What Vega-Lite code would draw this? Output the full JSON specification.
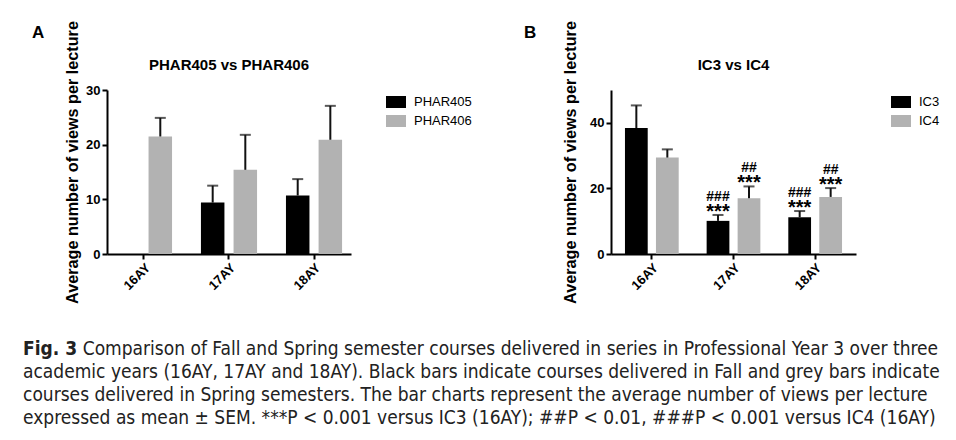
{
  "$schema": "https://vega.github.io/schema/vega-lite/v6.json",
  "background": "white",
  "padding": {"left": 22, "top": 20, "right": 5, "bottom": 5},
  "config": {
    "font": "Liberation Sans",
    "view": {"stroke": null},
    "axis": {
      "grid": false,
      "domainColor": "black",
      "domainWidth": 2,
      "tickColor": "black",
      "tickWidth": 2,
      "tickSize": 5,
      "labelFont": "Liberation Sans",
      "labelFontWeight": "bold",
      "labelFontSize": 13,
      "labelColor": "black",
      "titleFont": "Liberation Sans",
      "titleFontWeight": "bold",
      "titleFontSize": 16.2,
      "titleColor": "black"
    },
    "legend": {
      "labelFont": "Liberation Sans",
      "labelFontSize": 13,
      "labelColor": "black",
      "labelOffset": 8,
      "symbolType": "M-1,-0.6H1V0.6H-1Z",
      "symbolSize": 400,
      "symbolStrokeWidth": 0,
      "rowPadding": 2,
      "offset": 33,
      "padding": 2
    },
    "title": {"font": "Liberation Sans", "fontWeight": "bold", "color": "black"}
  },
  "title": {
    "text": "Fig. 3",
    "subtitle": [
      "\u200b\u00a0\u00a0\u00a0\u00a0\u00a0\u00a0\u00a0\u00a0\u00a0\u00a0\u00a0Comparison of Fall and Spring semester courses delivered in series in Professional Year 3 over three",
      "academic years (16AY, 17AY and 18AY). Black bars indicate courses delivered in Fall and grey bars indicate",
      "courses delivered in Spring semesters. The bar charts represent the average number of views per lecture",
      "expressed as mean ± SEM. ***P < 0.001 versus IC3 (16AY); ##P < 0.01, ###P < 0.001 versus IC4 (16AY)"
    ],
    "orient": "bottom",
    "anchor": "start",
    "dx": -9,
    "font": "Liberation Sans Narrow, DejaVu Sans Condensed, sans-serif",
    "fontSize": 19,
    "fontWeight": "bold",
    "color": "#222222",
    "subtitleFont": "Liberation Sans Narrow, DejaVu Sans Condensed, sans-serif",
    "subtitleFontSize": 19,
    "subtitleFontWeight": "normal",
    "subtitleColor": "#222222",
    "subtitleLineHeight": 23,
    "subtitlePadding": -19,
    "offset": 37
  },
  "datasets": {
    "A": [
      {"year": "16AY", "course": "PHAR406", "mean": 21.5, "upper": 24.9},
      {"year": "17AY", "course": "PHAR405", "mean": 9.4, "upper": 12.5},
      {"year": "17AY", "course": "PHAR406", "mean": 15.4, "upper": 21.8},
      {"year": "18AY", "course": "PHAR405", "mean": 10.7, "upper": 13.7},
      {"year": "18AY", "course": "PHAR406", "mean": 20.9, "upper": 27.1}
    ],
    "B": [
      {"year": "16AY", "course": "IC3", "mean": 38.4, "upper": 45.3, "stars": "", "hash": ""},
      {"year": "16AY", "course": "IC4", "mean": 29.4, "upper": 31.9, "stars": "", "hash": ""},
      {"year": "17AY", "course": "IC3", "mean": 10.1, "upper": 11.9, "stars": "***", "hash": "###"},
      {"year": "17AY", "course": "IC4", "mean": 17.0, "upper": 20.6, "stars": "***", "hash": "##"},
      {"year": "18AY", "course": "IC3", "mean": 11.2, "upper": 13.1, "stars": "***", "hash": "###"},
      {"year": "18AY", "course": "IC4", "mean": 17.4, "upper": 20.1, "stars": "***", "hash": "##"}
    ]
  },
  "resolve": {"scale": {"color": "independent", "xOffset": "independent"}, "legend": {"color": "independent"}},
  "spacing": 49,
  "hconcat": [
    {
      "title": {"text": "A", "anchor": "start", "fontSize": 17, "dx": -32, "dy": 21, "offset": 0},
      "vconcat": [
        {
          "width": 244,
          "height": 164,
          "title": {"text": "PHAR405 vs PHAR406", "fontSize": 15, "offset": 18, "dy": 70},
          "data": {"name": "A"},
          "encoding": {
            "x": {"field": "year", "type": "nominal", "title": null,
                  "scale": {"type": "band", "domain": ["16AY", "17AY", "18AY"], "paddingInner": 0.34, "paddingOuter": 0.105},
                  "axis": {"labelAngle": -45}},
            "xOffset": {"field": "course", "type": "nominal",
                        "scale": {"type": "band", "domain": ["PHAR405", "PHAR406"], "paddingInner": 0.28, "paddingOuter": 0}}
          },
          "layer": [
            {
              "mark": {"type": "bar"},
              "encoding": {
                "y": {"field": "mean", "type": "quantitative", "title": "Average number of views per lecture",
                      "scale": {"domain": [0, 30]},
                      "axis": {"values": [0, 10, 20, 30], "titleX": -35, "titleY": 72, "titleAlign": "center", "titleBaseline": "middle", "titleAngle": -90}},
                "color": {"field": "course", "type": "nominal", "title": null,
                          "scale": {"domain": ["PHAR405", "PHAR406"], "range": ["#000000", "#b2b2b2"]}}
              }
            },
            {
              "mark": {"type": "rule", "strokeWidth": 2, "color": "#111111"},
              "encoding": {"y": {"field": "mean", "type": "quantitative"}, "y2": {"field": "upper"}}
            },
            {
              "mark": {"type": "tick", "thickness": 2, "size": 11, "color": "#111111"},
              "encoding": {"y": {"field": "upper", "type": "quantitative"}}
            }
          ]
        }
      ]
    },
    {
      "title": {"text": "B", "anchor": "start", "fontSize": 17, "dx": -38, "dy": 21, "offset": 0},
      "vconcat": [
        {
          "width": 245,
          "height": 164,
          "title": {"text": "IC3 vs IC4", "fontSize": 15, "offset": 18, "dy": 70},
          "data": {"name": "B"},
          "encoding": {
            "x": {"field": "year", "type": "nominal", "title": null,
                  "scale": {"type": "band", "domain": ["16AY", "17AY", "18AY"], "paddingInner": 0.342, "paddingOuter": 0.171},
                  "axis": {"labelAngle": -45}},
            "xOffset": {"field": "course", "type": "nominal",
                        "scale": {"type": "band", "domain": ["IC3", "IC4"], "paddingInner": 0.266, "paddingOuter": 0}}
          },
          "layer": [
            {
              "mark": {"type": "bar"},
              "encoding": {
                "y": {"field": "mean", "type": "quantitative", "title": "Average number of views per lecture",
                      "scale": {"domain": [0, 50]},
                      "axis": {"values": [0, 10, 20, 30, 40, 50], "titleX": -41, "titleY": 72, "titleAlign": "center", "titleBaseline": "middle", "titleAngle": -90}},
                "color": {"field": "course", "type": "nominal", "title": null,
                          "scale": {"domain": ["IC3", "IC4"], "range": ["#000000", "#b2b2b2"]}}
              }
            },
            {
              "mark": {"type": "rule", "strokeWidth": 2, "color": "#111111"},
              "encoding": {"y": {"field": "mean", "type": "quantitative"}, "y2": {"field": "upper"}}
            },
            {
              "mark": {"type": "tick", "thickness": 2, "size": 11, "color": "#111111"},
              "encoding": {"y": {"field": "upper", "type": "quantitative"}}
            },
            {
              "mark": {"type": "text", "baseline": "alphabetic", "fontSize": 20, "fontWeight": "bold", "dy": 3, "color": "black"},
              "encoding": {"y": {"field": "upper", "type": "quantitative"}, "text": {"field": "stars"}}
            },
            {
              "mark": {"type": "text", "baseline": "alphabetic", "fontSize": 14, "fontWeight": "bold", "dy": -14, "color": "black"},
              "encoding": {"y": {"field": "upper", "type": "quantitative"}, "text": {"field": "hash"}}
            }
          ]
        }
      ]
    }
  ]
}
